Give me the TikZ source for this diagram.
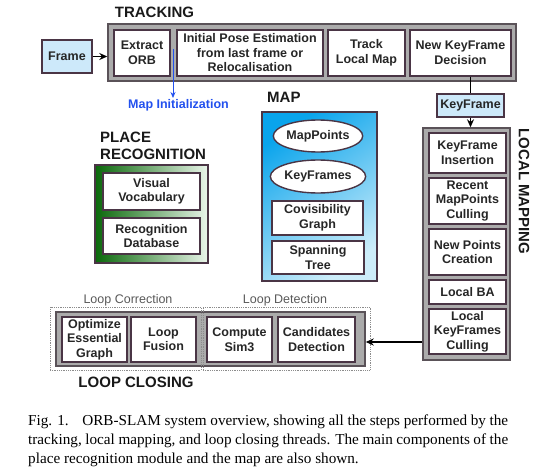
\documentclass[tikz,border=0pt]{standalone}
\usepackage{fontspec}
\setmainfont{Liberation Serif}
\newfontfamily\lsans{Liberation Sans}
\usetikzlibrary{shapes.geometric,arrows.meta}
\definecolor{bcol}{HTML}{4A3545}
\definecolor{gfill}{HTML}{ABABAB}
\definecolor{gline}{HTML}{5A5258}
\definecolor{kfblue}{HTML}{CDE9FA}
\definecolor{initblue}{HTML}{2250EE}
\definecolor{dkgreen}{HTML}{0A680A}
\definecolor{midgreen}{HTML}{4A9E4A}
\definecolor{ltgreen}{HTML}{EAF5EA}
\definecolor{mapblue}{HTML}{0AA4EC}
\definecolor{mapmid}{HTML}{5CC4F2}
\definecolor{mapblue2}{HTML}{CDEDFA}
\begin{document}
\begin{tikzpicture}[x=1pt,y=-1pt,
  box/.style={draw=bcol, fill=white, line width=1.4pt, inner sep=0pt, align=center,
    font=\lsans\bfseries\fontsize{12.5}{14.5}\selectfont, text=black!85},
  grp/.style={draw=gline, fill=gfill, line width=1.4pt, inner sep=0pt},
  ttl/.style={font=\lsans\bfseries\fontsize{15}{17}\selectfont, inner sep=0pt, text=black!90},
  sub/.style={font=\lsans\fontsize{12.5}{14.5}\selectfont, inner sep=0pt, text=black!65},
  dotgrp/.style={draw=black!45, densely dotted, line width=0.8pt, inner sep=0pt},
  arr/.style={line width=1.4pt, -{Stealth[length=8pt,width=7pt]}},
  ln/.style={line width=1.4pt}
]
\useasboundingbox (0,0) rectangle (554,468);

% TRACKING
\node[ttl] (trkT) at (154.5,12) {TRACKING};
\node[grp, minimum width=408, minimum height=57] (trk) at (312,52.5) {};
\node[box, minimum width=56, minimum height=46] (eorb) at (142,53) {Extract\\ORB};
\node[box, minimum width=146, minimum height=46] (ipe) at (250,53) {Initial Pose Estimation\\from last frame or\\Relocalisation};
\node[box, minimum width=77, minimum height=46] (tlm) at (366.5,53) {Track\\Local Map};
\node[box, minimum width=101, minimum height=46] (nkd) at (460.5,53) {New KeyFrame\\Decision};
\node[box, fill=kfblue, minimum width=50, minimum height=33] (frame) at (67,56.5) {Frame};
\draw[arr] (frame.east) -- (frame.east -| trk.west);

% Map initialization
\coordinate (mi1) at (173,49);
\coordinate (mi2) at (173,98);
\draw[initblue, line width=0.8pt, -{Stealth[length=6pt,width=5pt]}] (mi1) -- (mi2);
\node[font=\lsans\bfseries\fontsize{12.5}{14.5}\selectfont, text=initblue, inner sep=0pt] (mit) at (178.5,105) {Map Initialization};

% KeyFrame
\node[box, fill=kfblue, minimum width=67, minimum height=23] (kf) at (470.5,105.5) {KeyFrame};
\draw[ln] (nkd.south -| kf.north) -- (kf.north);

% LOCAL MAPPING
\node[grp, minimum width=87, minimum height=232] (lm) at (466.5,244) {};
\draw[arr] (kf.south) -- (kf.south |- lm.north);
\node[box, minimum width=77, minimum height=40] (kfi) at (467.5,153) {KeyFrame\\Insertion};
\node[box, minimum width=77, minimum height=46] (rmc) at (467.5,201) {Recent\\MapPoints\\Culling};
\node[box, minimum width=77, minimum height=46] (npc) at (467.5,252) {New Points\\Creation};
\node[box, minimum width=77, minimum height=24] (lba) at (467.5,292) {Local BA};
\node[box, minimum width=77, minimum height=45] (lkc) at (467.5,331.5) {Local\\KeyFrames\\Culling};
\node[ttl, rotate=-90] (lmT) at (524,191.5) {LOCAL MAPPING};

% PLACE RECOGNITION
\node[ttl, anchor=west] (prT1) at (100,137) {PLACE};
\node[ttl, anchor=west] (prT2) at (100,154) {RECOGNITION};
\node[draw=bcol, line width=1.4pt, minimum width=113, minimum height=98, inner sep=0pt,
  left color=dkgreen, middle color=midgreen, right color=ltgreen] (pr) at (151.5,214) {};
\node[box, minimum width=97, minimum height=37] (vv) at (151.5,191.5) {Visual\\Vocabulary};
\node[box, minimum width=97, minimum height=36] (rdb) at (151.5,236) {Recognition\\Database};

% MAP
\node[ttl, anchor=west] (mapT) at (267,97) {MAP};
\node[draw=bcol, line width=1.4pt, minimum width=115, minimum height=169, inner sep=0pt,
  top color=mapblue, middle color=mapmid, bottom color=mapblue2, shading angle=35] (map) at (319.5,196.5) {};
\node[box, ellipse, minimum width=89, minimum height=32] (mp) at (318,136) {MapPoints};
\node[box, ellipse, minimum width=89, minimum height=33] (kfs) at (318,176.5) {KeyFrames};
\node[box, minimum width=91, minimum height=34] (cov) at (317.5,218) {Covisibility\\Graph};
\node[box, minimum width=92, minimum height=33] (st) at (318,257.5) {Spanning\\Tree};

% LOOP CLOSING
\node[grp, minimum width=309, minimum height=54] (lcg) at (210.5,339) {};
\node[dotgrp, minimum width=151, minimum height=63] (lcorr) at (125.5,338.5) {};
\node[dotgrp, minimum width=167, minimum height=63] (ldet) at (286.5,338.5) {};
\node[sub] (lcorrT) at (128,300) {Loop Correction};
\node[sub] (ldetT) at (285,300) {Loop Detection};
\node[box, minimum width=65, minimum height=45] (oeg) at (94.5,339.5) {Optimize\\Essential\\Graph};
\node[box, minimum width=65, minimum height=45] (lf) at (163.5,339.5) {Loop\\Fusion};
\node[box, minimum width=65, minimum height=45] (cs3) at (239.5,339.5) {Compute\\Sim3};
\node[box, minimum width=77, minimum height=45] (cd) at (316.5,339.5) {Candidates\\Detection};
\node[ttl] (lcT) at (136,382) {LOOP CLOSING};
\draw[arr] ([yshift=-10.5pt]lkc.west -| lm.west) -- ([yshift=-10.5pt]lkc.west -| lcg.east);

% Caption
\node[anchor=north west, inner sep=0pt, text width=480pt, align=justify,
  font=\fontsize{15.2}{19}\selectfont] (cap) at (28,415)
 {Fig. 1.\hspace{0.9em}ORB-SLAM system overview, showing all the steps performed by the\linebreak tracking, local mapping, and loop closing threads. The main components of the\linebreak place recognition module and the map are also shown.};
\end{tikzpicture}
\end{document}
